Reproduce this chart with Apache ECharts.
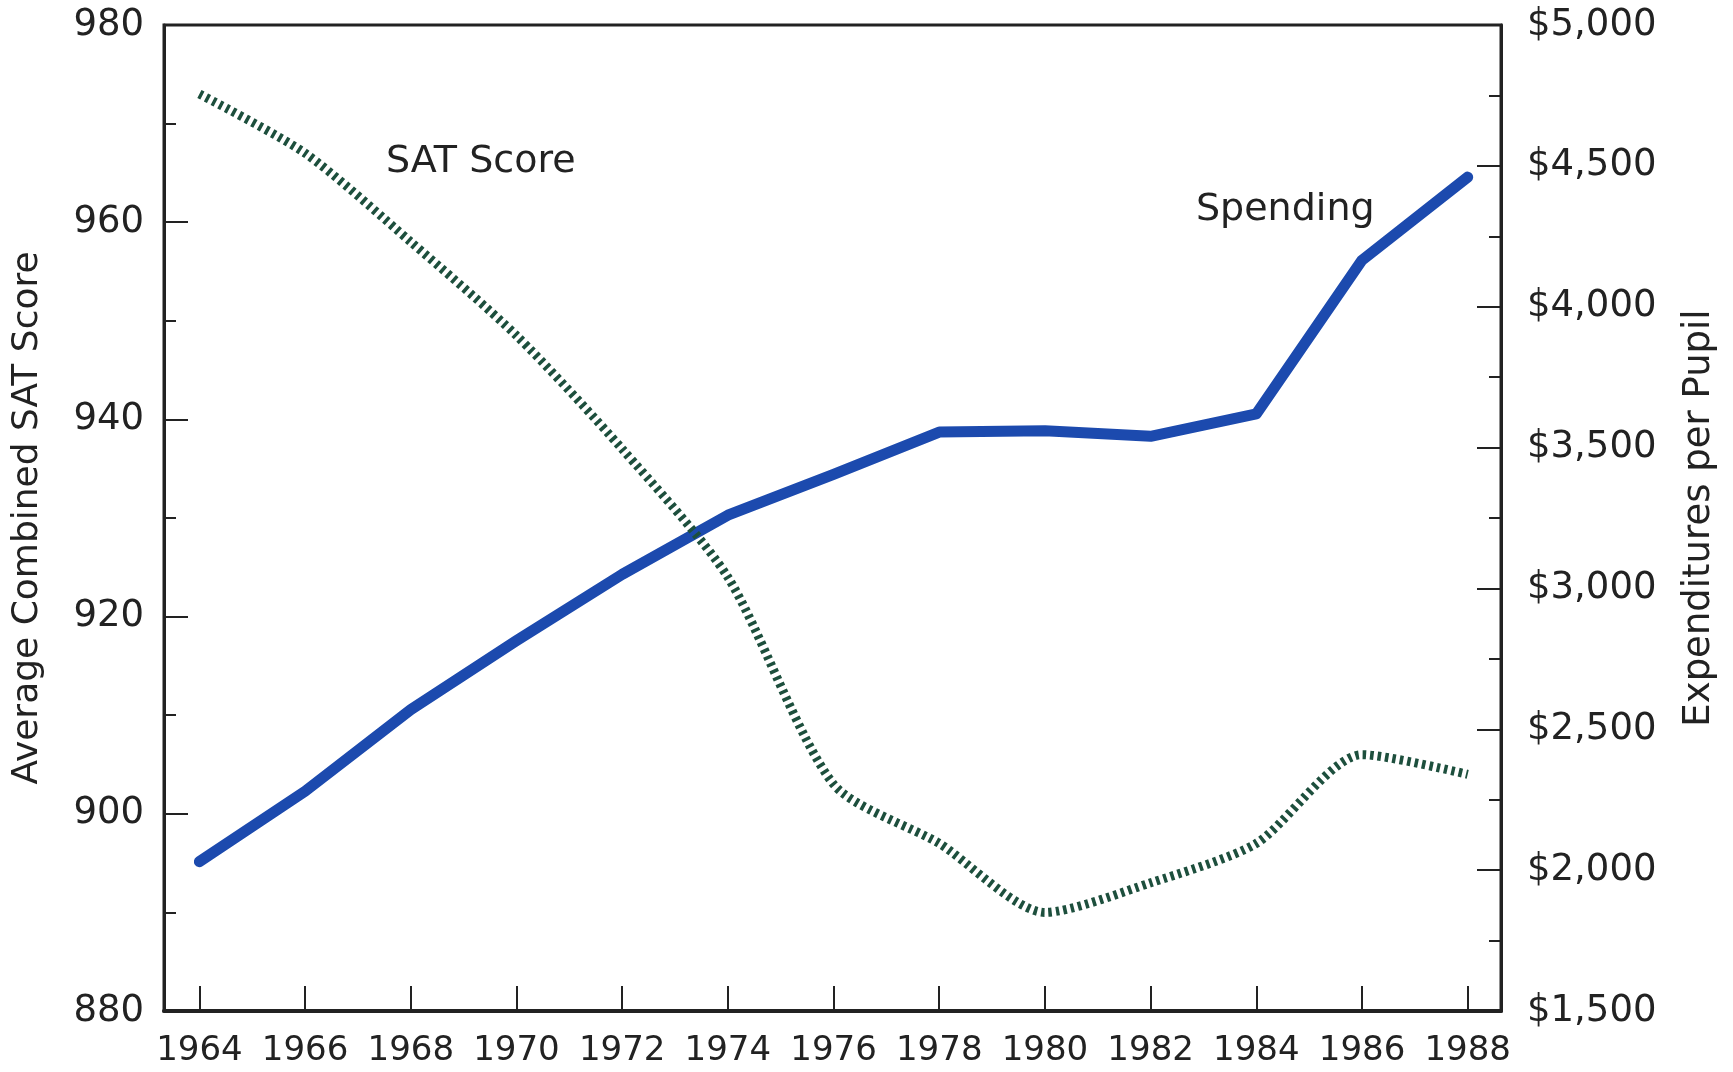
<!DOCTYPE html>
<html lang="en">
<head>
    <meta charset="UTF-8">
    <title>SAT Score vs Spending</title>
    <script src="https://cdn.jsdelivr.net/npm/echarts@6/dist/echarts.min.js"></script>
    <style>
        html, body { margin: 0; padding: 0; background: #fff; }
        #main { width: 1733px; height: 1072px; }
    </style>
</head>
<body>
<div id="main"></div>
<script type="text/javascript">
    // data
    var years = [1964, 1966, 1968, 1970, 1972, 1974, 1976, 1978, 1980, 1982, 1984, 1986, 1988];
    var satScore = [973, 967, 958, 948.5, 937, 924, 903, 897, 890, 893, 897, 906, 904];
    var spending = [2030, 2280, 2570, 2815, 3050, 3260, 3405, 3555, 3560, 3540, 3620, 4165, 4460];
    var leftTicks = [880, 900, 920, 940, 960, 980];
    var rightTicks = [1500, 2000, 2500, 3000, 3500, 4000, 4500, 5000];

    var ink = '#222';
    var font = 'DejaVu Sans';

    function pairs(vals) {
        return years.map(function (y, i) { return [y, vals[i]]; });
    }
    function money(v) {
        return '$' + String(v).replace(/\B(?=(\d{3})+(?!\d))/g, ',');
    }

    var myChart = echarts.init(document.getElementById('main'));
    var option = {
        backgroundColor: '#fff',
        animation: false,
        grid: {
            left: 164,
            right: 232,
            top: 25,
            bottom: 61,
            show: true,
            borderColor: ink,
            borderWidth: 3
        },
        xAxis: {
            type: 'value',
            min: 1963.33,
            max: 1988.63,
            axisLine: { lineStyle: { color: ink, width: 4 } },
            axisTick: {
                inside: true,
                length: 25,
                customValues: years,
                lineStyle: { color: ink, width: 2 }
            },
            axisLabel: {
                customValues: years,
                margin: 23,
                color: ink,
                fontFamily: font,
                fontSize: 34,
                formatter: function (v) { return String(v); }
            },
            splitLine: { show: false }
        },
        yAxis: [
            {
                type: 'value',
                min: leftTicks[0],
                max: leftTicks[leftTicks.length - 1],
                interval: 20,
                position: 'left',
                name: 'Average Combined SAT Score',
                nameLocation: 'middle',
                nameGap: 118,
                nameTextStyle: { color: ink, fontFamily: font, fontSize: 36 },
                axisLine: { show: true, lineStyle: { color: ink, width: 3 } },
                axisTick: { inside: true, length: 24, lineStyle: { color: ink, width: 2 } },
                minorTick: { show: true, splitNumber: 2, length: 12, lineStyle: { color: ink, width: 2 } },
                axisLabel: { margin: 20, color: ink, fontFamily: font, fontSize: 37 },
                splitLine: { show: false }
            },
            {
                type: 'value',
                min: rightTicks[0],
                max: rightTicks[rightTicks.length - 1],
                interval: 500,
                position: 'right',
                name: 'Expenditures per Pupil',
                nameLocation: 'middle',
                nameGap: 180,
                nameRotate: 90,
                nameTextStyle: { color: ink, fontFamily: font, fontSize: 37 },
                axisLine: { show: true, lineStyle: { color: ink, width: 3 } },
                axisTick: { inside: true, length: 24, lineStyle: { color: ink, width: 2 } },
                minorTick: { show: true, splitNumber: 2, length: 12, lineStyle: { color: ink, width: 2 } },
                axisLabel: { margin: 26, color: ink, fontFamily: font, fontSize: 37, formatter: money },
                splitLine: { show: false }
            }
        ],
        graphic: [
            {
                type: 'text',
                left: 386,
                top: 143,
                style: { text: 'SAT Score', fill: ink, font: '38px "DejaVu Sans"' }
            },
            {
                type: 'text',
                left: 1196,
                top: 191,
                style: { text: 'Spending', fill: ink, font: '38px "DejaVu Sans"' }
            }
        ],
        series: [
            {
                name: 'SAT Score',
                type: 'line',
                yAxisIndex: 0,
                data: pairs(satScore),
                smooth: 0.25,
                showSymbol: false,
                lineStyle: { color: '#1d4f3d', width: 9, type: [3.5, 4], cap: 'butt' },
                z: 3
            },
            {
                name: 'Spending',
                type: 'line',
                yAxisIndex: 1,
                data: pairs(spending),
                showSymbol: false,
                lineStyle: { color: '#1c4aae', width: 11, cap: 'round', join: 'round' },
                z: 2
            }
        ]
    };
    myChart.setOption(option);
</script>
</body>
</html>
